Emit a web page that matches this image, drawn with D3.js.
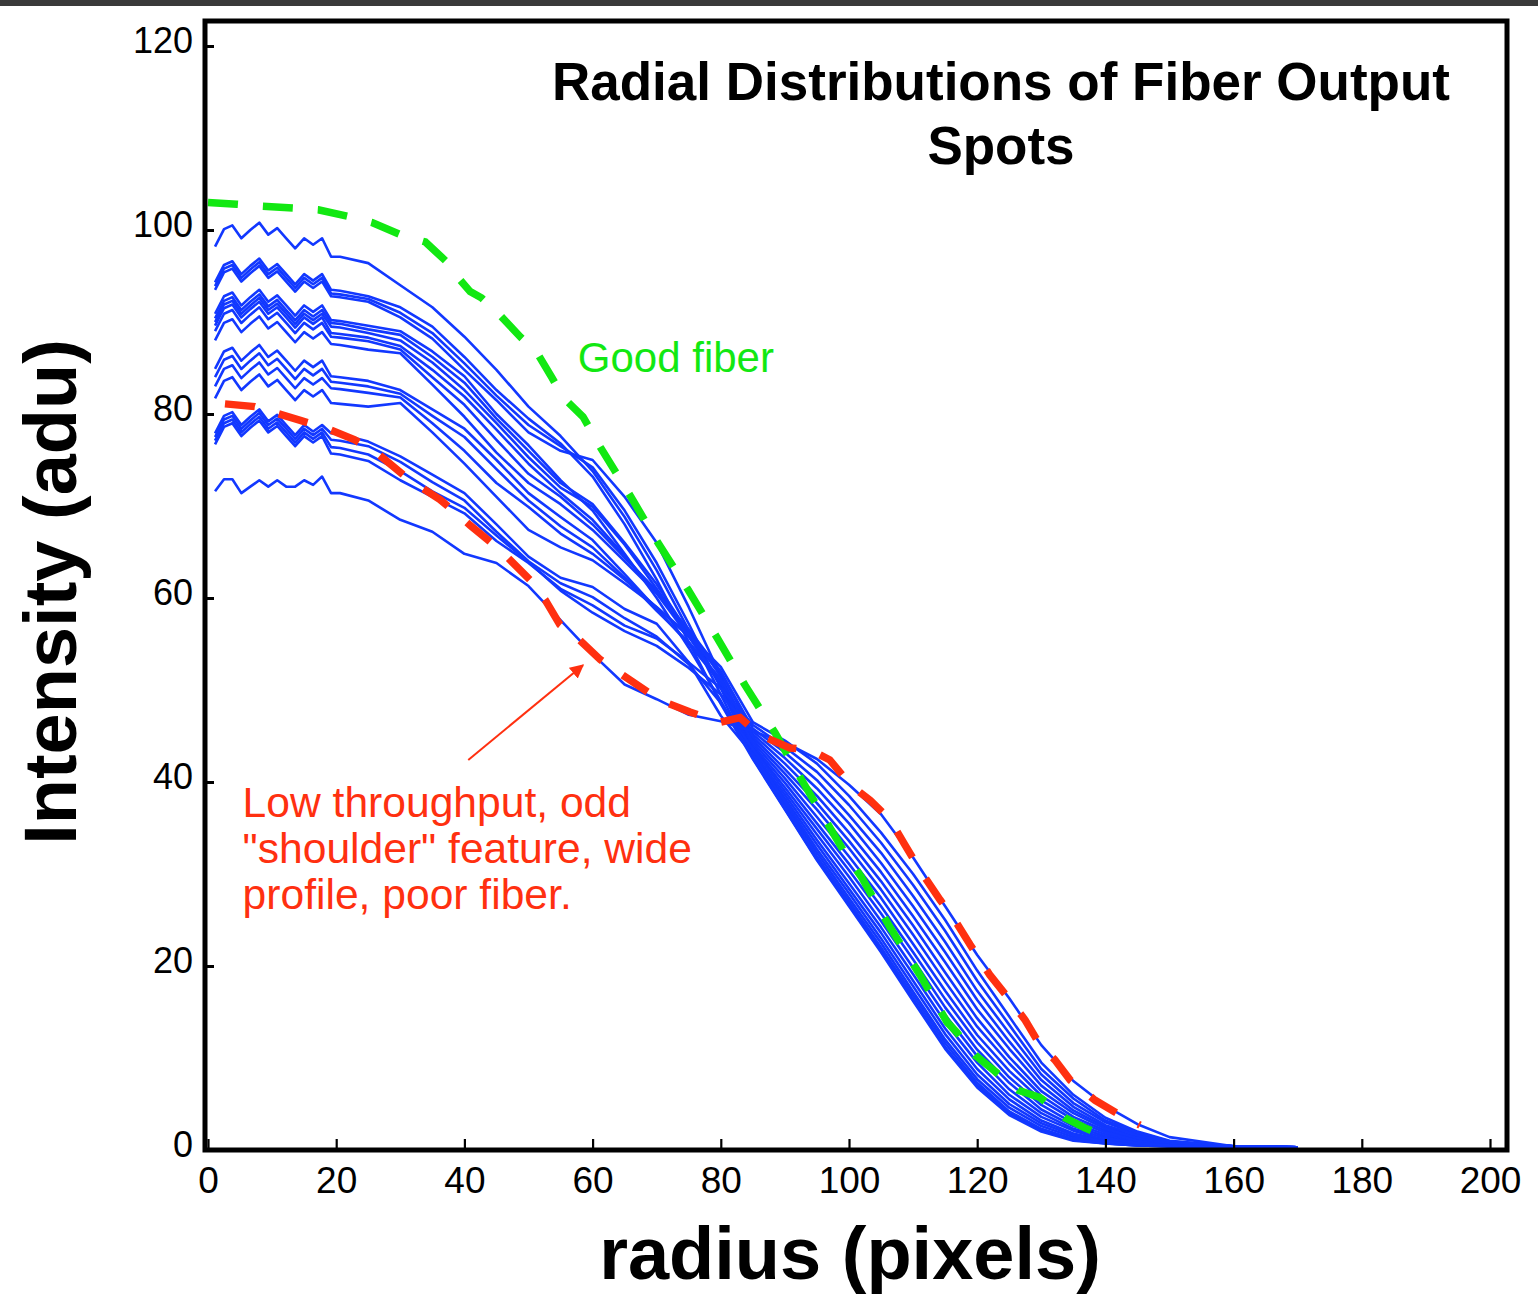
<!DOCTYPE html>
<html>
<head>
<meta charset="utf-8">
<script src="https://cdn.jsdelivr.net/npm/d3@7"></script>
<style>
  body { margin: 0; background: #fff; }
  svg text { font-family: "Liberation Sans", Arial, Helvetica, sans-serif; }
</style>
</head>
<body>
<div id="chart"></div>
<script>
// radius sampling shared by all blue profiles (pixels)
const radii = [1.1, 2.5, 3.8, 5.2, 6.6, 8.0, 9.4, 10.8, 12.2, 13.6, 15.0, 16.4, 17.8, 19.2, 20.6,
  25, 30, 35, 40, 45, 50, 55, 60, 65, 70, 75, 80,
  85, 90, 95, 100, 105, 110, 115, 120, 125, 130, 135, 140, 145, 150, 160, 170]

// one array per fiber, intensity (adu) at each radius above
const profileA  = [98.2, 100.1, 100.5, 99.1, 100.0, 100.8, 99.5, 100.2, 99.1, 98.0, 99.1, 98.4, 99.1, 97.1, 97.1,
  96.4, 94.0, 91.6, 88.4, 84.8, 80.8, 77.6, 73.8, 68.8, 63.0, 56.5, 49.5,
  42.6, 37.1, 31.6, 26.7, 21.7, 16.4, 11.2, 7.0, 4.0, 2.1, 1.1, 0.7, 0.5, 0.4, 0.35, 0.3]
const profileB1 = [94.3, 96.2, 96.6, 95.2, 96.1, 96.9, 95.6, 96.3, 95.2, 94.1, 95.2, 94.5, 95.2, 93.5, 93.4,
  92.8, 91.6, 89.5, 86.2, 82.6, 79.5, 76.8, 73.2, 68.0, 62.0, 55.2, 48.5,
  42.5, 37.0, 31.5, 26.5, 21.5, 16.2, 11.0, 6.8, 3.8, 2.0, 1.0, 0.7, 0.5, 0.4, 0.35, 0.3]
const profileB2 = [93.9, 95.8, 96.2, 94.8, 95.7, 96.5, 95.2, 95.9, 94.8, 93.7, 94.8, 94.1, 94.8, 93.1, 93.0,
  92.5, 91.0, 88.8, 85.5, 82.0, 78.8, 76.5, 74.2, 69.5, 63.8, 57.2, 50.2,
  42.8, 37.6, 32.3, 27.4, 22.5, 17.2, 12.0, 7.7, 4.6, 2.6, 1.4, 0.8, 0.55, 0.4, 0.35, 0.3]
const profileB3 = [93.5, 95.4, 95.8, 94.4, 95.3, 96.1, 94.8, 95.5, 94.4, 93.3, 94.4, 93.7, 94.4, 92.8, 92.7,
  92.2, 90.5, 88.2, 84.8, 81.5, 78.0, 76.0, 75.0, 71.0, 66.0, 59.0, 51.5,
  43.1, 38.2, 33.2, 28.4, 23.6, 18.4, 13.2, 8.8, 5.5, 3.2, 1.8, 1.0, 0.65, 0.45, 0.35, 0.3]
const profileC1 = [90.9, 92.8, 93.2, 91.8, 92.7, 93.5, 92.2, 92.9, 91.8, 90.7, 91.8, 91.1, 91.8, 90.2, 90.1,
  89.6, 89.0, 86.8, 84.1, 80.0, 76.6, 72.8, 69.5, 64.8, 60.0, 54.6, 48.8,
  42.7, 37.3, 31.9, 27.0, 22.0, 16.8, 11.6, 7.3, 4.2, 2.3, 1.2, 0.75, 0.5, 0.4, 0.35, 0.3]
const profileC2 = [90.4, 92.3, 92.7, 91.3, 92.2, 93.0, 91.7, 92.4, 91.3, 90.2, 91.3, 90.6, 91.3, 89.9, 89.8,
  89.2, 88.6, 86.2, 83.4, 79.5, 76.0, 72.5, 70.2, 66.0, 61.5, 56.2, 50.4,
  43.3, 38.6, 33.7, 29.0, 24.2, 19.1, 13.9, 9.5, 6.0, 3.6, 2.1, 1.1, 0.7, 0.5, 0.35, 0.3]
const profileC3 = [90.0, 91.9, 92.3, 90.9, 91.8, 92.6, 91.3, 92.0, 90.9, 89.8, 90.9, 90.2, 90.9, 89.5, 89.4,
  88.8, 88.0, 85.6, 82.6, 79.0, 75.3, 72.0, 69.9, 65.8, 61.0, 56.0, 50.6,
  43.8, 39.4, 34.9, 30.4, 25.7, 20.7, 15.5, 10.9, 7.3, 4.4, 2.6, 1.5, 0.85, 0.5, 0.35, 0.3]
const profileC4 = [89.6, 91.5, 91.9, 90.5, 91.4, 92.2, 90.9, 91.6, 90.5, 89.4, 90.5, 89.8, 90.5, 88.8, 88.7,
  88.3, 87.4, 84.8, 81.9, 78.3, 74.6, 71.4, 68.5, 64.6, 60.5, 55.8, 50.8,
  44.0, 39.9, 35.5, 31.1, 26.5, 21.5, 16.4, 11.7, 7.9, 4.9, 2.9, 1.7, 0.9, 0.55, 0.4, 0.3]
const profileC5 = [89.0, 90.9, 91.3, 89.9, 90.8, 91.6, 90.3, 91.0, 89.9, 88.8, 89.9, 89.2, 89.9, 88.4, 88.3,
  87.9, 87.0, 84.0, 81.0, 77.2, 73.5, 71.0, 68.0, 64.4, 60.8, 56.4, 51.5,
  44.6, 40.9, 37.0, 32.8, 28.3, 23.4, 18.3, 13.4, 9.4, 5.9, 3.6, 2.1, 1.2, 0.65, 0.4, 0.3]
const profileC6 = [88.0, 89.9, 90.3, 88.9, 89.8, 90.6, 89.3, 90.0, 88.9, 87.8, 88.9, 88.2, 88.9, 87.6, 87.5,
  87.0, 86.6, 83.2, 79.7, 75.8, 72.5, 70.2, 67.4, 64.0, 60.5, 56.6, 52.0,
  45.2, 42.0, 38.5, 34.5, 30.2, 25.4, 20.4, 15.3, 11.0, 7.0, 4.3, 2.5, 1.4, 0.75, 0.4, 0.3]
const profileD1 = [84.9, 86.8, 87.2, 85.8, 86.7, 87.5, 86.2, 86.9, 85.8, 84.7, 85.8, 85.1, 85.8, 84.1, 84.0,
  83.6, 82.6, 80.5, 78.4, 75.0, 71.4, 68.8, 66.3, 62.6, 58.8, 55.0, 50.8,
  44.3, 40.4, 36.2, 31.9, 27.4, 22.4, 17.3, 12.5, 8.6, 5.4, 3.3, 1.9, 1.0, 0.6, 0.4, 0.3]
const profileD2 = [84.0, 85.9, 86.3, 84.9, 85.8, 86.6, 85.3, 86.0, 84.9, 83.8, 84.9, 84.2, 84.9, 83.5, 83.4,
  83.0, 82.2, 79.8, 77.5, 74.0, 70.6, 67.8, 65.5, 62.2, 58.6, 55.2, 51.2,
  44.9, 41.4, 37.7, 33.6, 29.2, 24.4, 19.3, 14.3, 10.1, 6.4, 4.0, 2.3, 1.3, 0.7, 0.4, 0.3]
const profileD3 = [83.0, 84.9, 85.3, 83.9, 84.8, 85.6, 84.3, 85.0, 83.9, 82.8, 83.9, 83.2, 83.9, 82.8, 82.7,
  82.3, 81.8, 79.0, 76.0, 72.5, 69.9, 67.0, 64.8, 62.0, 59.0, 55.8, 52.0,
  45.8, 43.2, 40.2, 36.4, 32.3, 27.6, 22.6, 17.3, 12.7, 8.2, 5.1, 3.0, 1.7, 0.85, 0.4, 0.3]
const profileD4 = [81.7, 83.6, 84.0, 82.6, 83.5, 84.3, 83.0, 83.7, 82.6, 81.5, 82.6, 81.9, 82.6, 81.2, 81.1,
  80.8, 81.2, 78.0, 74.6, 71.0, 67.4, 65.5, 64.1, 61.6, 59.0, 56.0, 52.5,
  46.5, 44.5, 42.0, 38.5, 34.5, 30.0, 25.0, 19.5, 14.5, 9.5, 6.0, 3.5, 2.0, 1.0, 0.4, 0.3]
const profileE1 = [77.9, 79.8, 80.2, 78.8, 79.7, 80.5, 79.2, 79.9, 78.8, 77.7, 78.8, 78.1, 78.8, 77.9, 77.8,
  77.0, 75.4, 73.4, 71.4, 68.0, 64.5, 62.2, 61.2, 58.8, 57.2, 53.0, 47.2,
  43.0, 37.9, 32.7, 27.9, 23.0, 17.8, 12.6, 8.2, 5.0, 2.9, 1.6, 0.9, 0.6, 0.45, 0.35, 0.3]
const profileE2 = [77.5, 79.4, 79.8, 78.4, 79.3, 80.1, 78.8, 79.5, 78.4, 77.3, 78.4, 77.7, 78.4, 77.2, 77.1,
  76.5, 74.8, 72.6, 70.6, 67.2, 64.0, 61.6, 60.1, 57.8, 55.8, 52.8, 48.6,
  43.6, 39.0, 34.3, 29.7, 24.9, 19.8, 14.7, 10.2, 6.6, 4.0, 2.3, 1.3, 0.75, 0.5, 0.35, 0.3]
const profileE3 = [77.1, 79.0, 79.4, 78.0, 78.9, 79.7, 78.4, 79.1, 78.0, 76.9, 78.0, 77.3, 78.0, 76.4, 76.3,
  75.6, 73.8, 71.6, 69.8, 66.8, 63.9, 60.8, 58.4, 56.4, 54.8, 52.4, 49.5,
  45.5, 42.6, 39.3, 35.5, 31.2, 26.5, 21.5, 16.3, 11.8, 7.6, 4.7, 2.7, 1.6, 0.8, 0.4, 0.3]
const profileE4 = [76.7, 78.6, 79.0, 77.6, 78.5, 79.3, 78.0, 78.7, 77.6, 76.5, 77.6, 76.9, 77.6, 75.7, 75.6,
  74.9, 72.8, 71.0, 69.2, 66.2, 63.8, 61.0, 59.2, 57.0, 55.6, 53.0, 50.2,
  46.2, 43.8, 41.1, 37.5, 33.4, 28.8, 23.8, 18.4, 13.6, 8.8, 5.6, 3.2, 1.9, 0.95, 0.4, 0.3]
// the low throughput fiber with the shoulder
const profileF  = [71.6, 72.9, 72.9, 71.4, 72.1, 72.8, 72.1, 72.8, 72.1, 72.1, 72.8, 72.3, 73.2, 71.4, 71.4,
  70.6, 68.5, 67.2, 64.8, 63.8, 61.3, 57.6, 53.9, 50.6, 49.0, 47.3, 46.6,
  45.5, 44.3, 42.5, 39.7, 36.5, 31.8, 26.5, 21.2, 16.5, 11.4, 7.5, 4.8, 2.8, 1.4, 0.4, 0.3]

const blueProfiles = [profileA, profileB1, profileB2, profileB3, profileC1, profileC2, profileC3,
  profileC4, profileC5, profileC6, profileD1, profileD2, profileD3, profileD4,
  profileE1, profileE2, profileE3, profileE4, profileF]

// hand drawn highlight curves
const goodRadius = [0, 4.5, 8.4, 13.3, 17.2, 21.8, 25.6, 30.0, 33.9, 37.3, 39.3, 40.9, 42.7, 45.2, 48.7,
  51.3, 53.7, 55.4, 58.5, 61.2, 65.8, 70.2, 74.9, 79.4, 83.8, 88.5, 92.8, 99.1, 102.0, 106.4,
  111.1, 115.3, 116.8, 119.7, 122.5, 126.4, 129.8, 133.7, 136.8, 141.2]
const goodValue = [103.0, 102.8, 102.6, 102.4, 102.2, 101.5, 100.8, 99.5, 98.7, 96.5, 94.6, 93.3, 92.6, 91.0, 88.4,
  86.7, 83.9, 81.8, 79.7, 76.4, 71.2, 66.0, 60.9, 55.7, 50.5, 45.3, 40.0, 32.6, 29.6, 24.2,
  19.0, 13.9, 12.8, 10.3, 8.7, 6.5, 5.7, 3.5, 2.4, 1.1]
const poorRadius = [2.65, 7.3, 14.4, 19.0, 22.9, 26.8, 31.5, 36.2, 40.9, 45.6, 50.2, 52.6, 54.9, 58.0,
  61.2, 65.8, 70.5, 75.2, 79.9, 83.0, 86.1, 90.8, 93.9, 97.0, 100.2, 103.3, 106.4, 108.7, 111.1,
  114.2, 116.5, 118.9, 122.0, 125.1, 127.5, 129.8, 132.1, 134.5, 138.4, 142.3, 145.4]
const poorValue = [81.1, 80.8, 79.3, 78.3, 77.2, 75.5, 72.8, 70.7, 67.9, 65.2, 62.0, 59.8, 57.1, 55.4,
  53.3, 51.1, 48.9, 47.6, 46.5, 47.0, 45.1, 43.7, 43.5, 42.4, 39.7, 38.0, 35.9, 33.2, 30.4,
  27.2, 25.0, 22.3, 19.0, 16.3, 14.1, 11.4, 9.8, 7.6, 5.4, 3.8, 2.7]

const xTicks = [0, 20, 40, 60, 80, 100, 120, 140, 160, 180, 200]
const yTicks = [0, 20, 40, 60, 80, 100, 120]

const titleLines = ["Radial Distributions of Fiber Output", "Spots"]
const poorText = ["Low throughput, odd", "\"shoulder\" feature, wide", "profile, poor fiber."]

const width = 1538, height = 1295
const frame = {left: 205, right: 1507, top: 21, bottom: 1150}
const blue = "#1238ff", green = "#12e812", red = "#ff3010"

const svg = d3.select("#chart").append("svg")
  .attr("width", width).attr("height", height)
  .style("display", "block")

svg.append("rect").attr("width", width).attr("height", height).attr("fill", "#fff")
// dark strip across the top of the screenshot
svg.append("rect").attr("width", width).attr("height", 6).attr("fill", "#3a3a3a")

const x = d3.scaleLinear().domain([0, 200]).range([208, 1490])
const y = d3.scaleLinear().domain([0, 120]).range([1150, 46])

const line = d3.line().x(d => x(d[0])).y(d => y(d[1]))

// blue profiles
svg.append("g")
  .selectAll("path")
  .data(blueProfiles)
  .join("path")
    .attr("d", p => line(p.map((v, i) => [radii[i], v])))
    .attr("fill", "none")
    .attr("stroke", blue)
    .attr("stroke-width", 2.6)
    .attr("stroke-linejoin", "round")

// good fiber (green) and poor fiber (red) dashed highlights
svg.append("path")
  .attr("d", line(goodRadius.map((r, i) => [r, goodValue[i]])))
  .attr("fill", "none").attr("stroke", green)
  .attr("stroke-width", 7.5).attr("stroke-dasharray", "30,25")
svg.append("path")
  .attr("d", line(poorRadius.map((r, i) => [r, poorValue[i]])))
  .attr("fill", "none").attr("stroke", red)
  .attr("stroke-width", 7.5).attr("stroke-dasharray", "30,25")

// axes with inward ticks
const yAxis = svg.append("g")
  .attr("transform", `translate(${frame.left},0)`)
  .call(d3.axisLeft(y).tickValues(yTicks).tickSize(-9).tickPadding(12))
yAxis.select(".domain").remove()
yAxis.selectAll(".tick line").attr("stroke", "#000").attr("stroke-width", 3)
yAxis.selectAll(".tick text").attr("font-size", 36).attr("fill", "#000").attr("dy", "0.18em")
  .style("font-family", "'Liberation Sans', Arial, sans-serif")

const xAxis = svg.append("g")
  .attr("transform", `translate(0,${frame.bottom})`)
  .call(d3.axisBottom(x).tickValues(xTicks).tickSize(-11).tickPadding(17))
xAxis.select(".domain").remove()
xAxis.selectAll(".tick line").attr("stroke", "#000").attr("stroke-width", 2.2)
xAxis.selectAll(".tick text").attr("font-size", 37).attr("fill", "#000")
  .style("font-family", "'Liberation Sans', Arial, sans-serif")

// plot frame
svg.append("rect")
  .attr("x", frame.left).attr("y", frame.top)
  .attr("width", frame.right - frame.left).attr("height", frame.bottom - frame.top)
  .attr("fill", "none").attr("stroke", "#000").attr("stroke-width", 5)

// title
svg.append("text")
  .attr("text-anchor", "middle")
  .attr("font-size", 53).attr("font-weight", "bold")
  .selectAll("tspan")
  .data(titleLines)
  .join("tspan")
    .attr("x", 1001)
    .attr("y", (d, i) => 100 + i * 64)
    .text(d => d)

// axis titles
svg.append("text")
  .attr("text-anchor", "middle")
  .attr("font-size", 74).attr("font-weight", "bold")
  .attr("x", 850).attr("y", 1279)
  .text("radius (pixels)")
svg.append("text")
  .attr("text-anchor", "middle")
  .attr("font-size", 74).attr("font-weight", "bold")
  .attr("transform", "translate(76,592) rotate(-90)")
  .text("Intensity (adu)")

// annotations
svg.append("text")
  .attr("x", x(57.7)).attr("y", y(84.6))
  .attr("font-size", 42).attr("fill", green)
  .text("Good fiber")

svg.append("text")
  .attr("font-size", 42.6).attr("fill", red)
  .selectAll("tspan")
  .data(poorText)
  .join("tspan")
    .attr("x", x(5.4))
    .attr("y", (d, i) => y(36.2) + i * 46)
    .text(d => d)

svg.append("defs").append("marker")
  .attr("id", "arrow-head")
  .attr("viewBox", "0 0 10 10")
  .attr("refX", 9).attr("refY", 5)
  .attr("markerWidth", 7).attr("markerHeight", 7)
  .attr("markerUnits", "strokeWidth")
  .attr("orient", "auto")
  .append("path").attr("d", "M0,0L10,5L0,10z").attr("fill", red)

svg.append("line")
  .attr("x1", x(40.6)).attr("y1", y(42.4))
  .attr("x2", x(58.5)).attr("y2", y(52.7))
  .attr("stroke", red).attr("stroke-width", 2)
  .attr("marker-end", "url(#arrow-head)")
</script>
</body>
</html>
